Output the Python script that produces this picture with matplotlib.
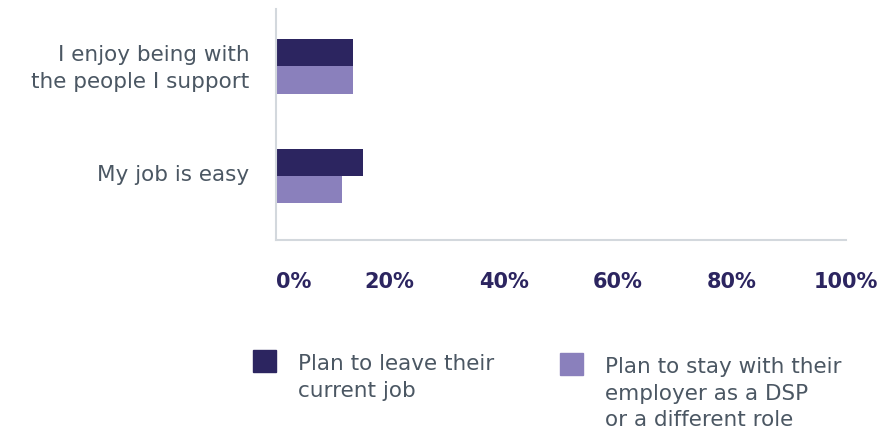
import numpy as np
import matplotlib.pyplot as plt
from matplotlib.patches import Rectangle
from matplotlib.transforms import ScaledTranslation

# survey reasons, share of respondents (%)
categories = ['I enjoy being with\nthe people I support', 'My job is easy']
leave_pct = [13.5, 15.3]
stay_pct = [13.5, 11.6]
series_labels = ['Plan to leave their\ncurrent job',
                 'Plan to stay with their\nemployer as a DSP\nor a different role']
tick_vals = [0, 20, 40, 60, 80, 100]
tick_labels = ['0%', '20%', '40%', '60%', '80%', '100%']

DARK = '#2c2560'
LIGHT = '#8a80bc'
TEXT = '#4b5763'
AXIS = '#d3d8dd'

plt.rcParams['font.family'] = ['DejaVu Sans']

fig = plt.figure(figsize=(8.79, 4.31), dpi=100)
ax = fig.add_axes([0.3135, 0.4408, 0.649, 0.5362])

y = np.arange(len(categories))
h = 0.25
ax.barh(y - h / 2, leave_pct, height=h, color=DARK)
ax.barh(y + h / 2, stay_pct, height=h, color=LIGHT)

ax.set_xlim(0, 100)
ax.set_ylim(1.584, -0.525)

ax.set_yticks(y)
ax.set_yticklabels(categories, fontsize=15.5, color=TEXT, linespacing=1.42)
ax.tick_params(axis='y', length=0, pad=19)
# nudge category labels up a little so the text sits centred on the bars
lift = ScaledTranslation(0, 3 / 72, fig.dpi_scale_trans)
for lbl in ax.get_yticklabels():
    lbl.set_transform(lbl.get_transform() + lift)

ax.set_xticks(tick_vals)
ax.set_xticklabels(tick_labels, fontsize=15, color=DARK, fontweight='bold')
ax.tick_params(axis='x', length=0, pad=22)
ax.get_xticklabels()[0].set_ha('left')

for side in ['top', 'right']:
    ax.spines[side].set_visible(False)
for side in ['left', 'bottom']:
    ax.spines[side].set_color(AXIS)
    ax.spines[side].set_linewidth(1.5)

# legend drawn by hand so the swatch sits on the first text line
W, H = 879, 431
legend_items = [(253, 351, DARK, series_labels[0]),
                (560, 354, LIGHT, series_labels[1])]
for x0, y0, col, lab in legend_items:
    fig.add_artist(Rectangle((x0 / W, 1 - (y0 + 22) / H), 23 / W, 22 / H,
                             transform=fig.transFigure, color=col))
    fig.text((x0 + 45) / W, 1 - (y0 + 3) / H, lab, fontsize=15.5, color=TEXT,
             va='top', ha='left', linespacing=1.42)

fig.savefig('out.png', dpi=100)
